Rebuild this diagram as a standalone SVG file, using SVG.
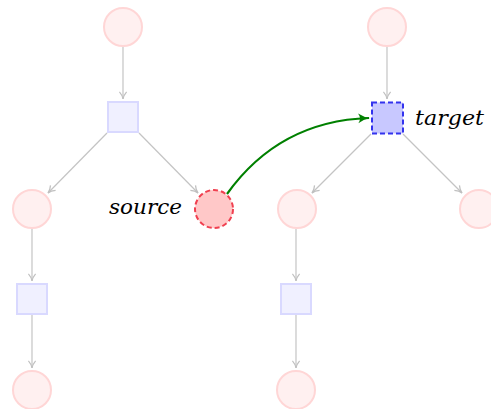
<svg xmlns="http://www.w3.org/2000/svg" width="491" height="409" viewBox="0 0 491 409">
<style>
.c{fill:#fff0f0;stroke:#ffd6d6;stroke-width:2}
.s{fill:#f0f0ff;stroke:#d9d9ff;stroke-width:2}
.e{fill:none;stroke:#c4c4c4;stroke-width:1.2;marker-end:url(#ga)}
.t{font-family:'DejaVu Serif','Liberation Serif',serif;font-style:italic;font-size:21px;fill:#000}
</style>
<defs>
<marker id="ga" viewBox="0 0 10 10" refX="9" refY="5" markerWidth="9" markerHeight="9" markerUnits="userSpaceOnUse" orient="auto">
<path d="M1,1 Q5,4.5 9,5 Q5,5.5 1,9" fill="none" stroke="#c0c0c0" stroke-width="1.4"/>
</marker>
<marker id="gr" viewBox="0 0 10 10" refX="9" refY="5" markerWidth="12" markerHeight="12" markerUnits="userSpaceOnUse" orient="auto">
<path d="M0,1 Q5,4.5 10,5 Q5,5.5 0,9 Q3,5 0,1Z" fill="#008000"/>
</marker>
</defs>
<g id="connectors">
<line class="e" x1="123" y1="47" x2="123" y2="99"/>
<line class="e" x1="107" y1="133" x2="48" y2="193"/>
<line class="e" x1="139" y1="133" x2="198" y2="193"/>
<line class="e" x1="32" y1="229" x2="32" y2="281"/>
<line class="e" x1="32" y1="315" x2="32" y2="368"/>
<line class="e" x1="387" y1="47" x2="387" y2="99"/>
<line class="e" x1="371" y1="134" x2="312" y2="193"/>
<line class="e" x1="403" y1="134" x2="462" y2="193"/>
<line class="e" x1="296" y1="229" x2="296" y2="281"/>
<line class="e" x1="296" y1="315" x2="296" y2="368"/>
<path d="M227,194 C262,145 310,120 369,118" fill="none" stroke="#008000" stroke-width="2.2" marker-end="url(#gr)"/>
</g>
<g id="n1"><circle class="c" cx="123" cy="27" r="19"/></g>
<g id="n2"><rect class="s" x="108" y="102" width="30" height="30"/></g>
<g id="n3"><circle class="c" cx="32" cy="209" r="19"/></g>
<g id="source"><circle cx="214" cy="209" r="19" fill="#ffc8c8" stroke="#f04050" stroke-width="2" stroke-dasharray="5,3"/><text class="t" x="109" y="214" textLength="73" lengthAdjust="spacingAndGlyphs">source</text></g>
<g id="n5"><rect class="s" x="17" y="284" width="30" height="30"/></g>
<g id="n6"><circle class="c" cx="32" cy="390" r="19"/></g>
<g id="n7"><circle class="c" cx="387" cy="27" r="19"/></g>
<g id="target"><rect x="372" y="102.5" width="31" height="31" fill="#c8c8ff" stroke="#3333ee" stroke-width="2" stroke-dasharray="5,3"/><text class="t" x="415" y="124.5" textLength="69" lengthAdjust="spacingAndGlyphs">target</text></g>
<g id="n9"><circle class="c" cx="297" cy="209" r="19"/></g>
<g id="n10"><circle class="c" cx="479" cy="209" r="19"/></g>
<g id="n11"><rect class="s" x="281" y="284" width="30" height="30"/></g>
<g id="n12"><circle class="c" cx="296" cy="390" r="19"/></g>
</svg>
